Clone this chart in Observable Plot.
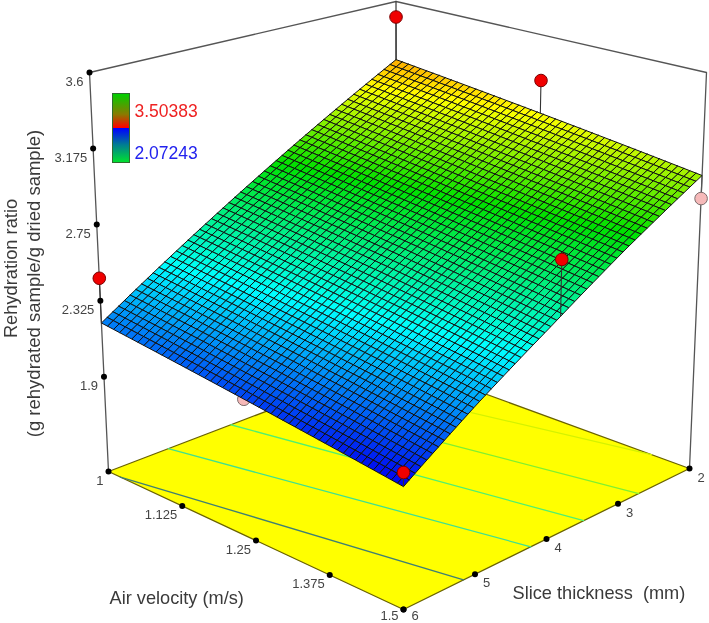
<!DOCTYPE html>
<html><head><meta charset="utf-8">
<script src="https://cdn.jsdelivr.net/npm/d3@7"></script>
<script src="https://cdn.jsdelivr.net/npm/@observablehq/plot@0.6"></script>
<style>
html,body{margin:0;padding:0;background:#fff;width:709px;height:623px;overflow:hidden}
#chart{position:relative;width:709px;height:623px}
#chart svg{display:block;filter:blur(0.45px)}
#bar{position:absolute;left:112px;top:93px;width:16px;height:68px;border:1px solid #2f6b2f;
background:linear-gradient(to bottom,#00d000 0%,#8a7a00 30%,#ff0000 49.5%,#0000ff 50.5%,#007f90 75%,#00e030 100%)}
</style></head><body><div id="chart"><div id="bar"></div></div>
<script>
const airTicks=[1,1.125,1.25,1.375,1.5];
const airLabels=["1","1.125","1.25","1.375","1.5"];
const sliceTicks=[6,5,4,3,2];
const sliceLabels=["6","5","4","3","2"];
const zTicks=[3.6,3.175,2.75,2.325,1.9];
const zLabels=["3.6","3.175","2.75","2.325","1.9"];
const zFloor=1.37, zCeil=3.6;
// response read at slice = 2,3,4,5,6 for three air velocities
const surfSlice=[2,3,4,5,6];
const surfAir=[1,1.25,1.5];
const surfAt1=[3.24,2.98,2.72,2.46,2.20];
const surfAt125=[3.13,2.87,2.62,2.36,2.10];
const surfAt15=[3.02,2.77,2.51,2.26,2.00];
// design points
const ptAir=[1,1.235,1,1.5,1.5,1.235,1.5];
const ptSlice=[2,2,6,3.87,2,6,6];
const ptZ=[3.50383,3.33,2.45,2.85,2.89,2.105,2.07243];
const ptBelow=[false,false,false,false,true,true,false];
// floor contours
const contA=[[1.02,1.5],[1,1.5],[1,1.5],[1,1.5],[1,1.435]];
const contS=[[6,5.16],[5.17,4.22],[4.3,3.48],[3.5,2.71],[2.76,2]];
const contC=["#3f7f74","#40e090","#50f070","#80f030","#d4f200"];
const colorDomain=[2.0,2.42,2.82,3.13,3.42];
const colorRange=["#0000f0","#00ffff","#00e000","#ffff00","#ff2000"];

// bilinear map of the unit square to the screen corners (left, front, right, back)
function squareToQuad(q){
  const [p0,p1,p2,p3]=q;
  return (u,v)=>[0,1].map(k=>(1-u)*(1-v)*p0[k]+u*(1-v)*p1[k]+u*v*p2[k]+(1-u)*v*p3[k]);
}
const floorH=squareToQuad([[108,471],[403,609],[689,468],[396,361]]);
const topH=squareToQuad([[89,72],[403,174],[706,72],[395.5,1]]);
function proj(air,slice,z){
  const u=(air-1)/0.5, v=(6-slice)/4, t=(z-zFloor)/(zCeil-zFloor);
  const f=floorH(u,v), g=topH(u,v);
  return [f[0]+(g[0]-f[0])*t, f[1]+(g[1]-f[1])*t];
}
const table=[surfAt1,surfAt125,surfAt15];
function surfZ(air,slice){
  const ai=Math.min(1,Math.floor((air-1)/0.25)), si=Math.min(3,Math.floor(slice-2));
  const p=(air-1)/0.25-ai, q=slice-2-si;
  return (1-p)*((1-q)*table[ai][si]+q*table[ai][si+1])+p*((1-q)*table[ai+1][si]+q*table[ai+1][si+1]);
}
const P=(air,slice,z,id,extra)=>{const [x,y]=proj(air,slice,z);return {x,y,id,...extra};};

// mesh
const N=50, cells=[];
for(let i=0;i<N;i++)for(let j=0;j<N;j++){
  const a0=1+i/N*0.5,a1=1+(i+1)/N*0.5,s0=2+j/N*4,s1=2+(j+1)/N*4;
  const zc=surfZ((a0+a1)/2,(s0+s1)/2), id=i*N+j;
  for(const [a,s] of [[a0,s0],[a1,s0],[a1,s1],[a0,s1],[a0,s0]])
    cells.push(P(a,s,surfZ(a,s),id,{zc}));
}
const floorPoly=[[1,6],[1.5,6],[1.5,2],[1,2],[1,6]].map(([a,s])=>P(a,s,zFloor,0));
const wall=[[1,6,zFloor],[1,6,zCeil],[1,2,zCeil],[1.5,2,zCeil],[1.5,2,zFloor]].map(([a,s,z])=>P(a,s,z,0));
const backPost=[P(1,2,zCeil,0),P(1,2,surfZ(1,2),0)];
const contLines=contA.map((ca,k)=>[P(ca[0],contS[k][0],zFloor,k),P(ca[1],contS[k][1],zFloor,k)]);
const pts=ptAir.map((a,i)=>({...P(a,ptSlice[i],ptZ[i],i),below:ptBelow[i]}));
const stems=ptAir.flatMap((a,i)=>[P(a,ptSlice[i],ptZ[i],i,{below:ptBelow[i]}),P(a,ptSlice[i],surfZ(a,ptSlice[i]),i,{below:ptBelow[i]})]);
const zT=zTicks.map((z,i)=>P(1,6,z,i,{label:zLabels[i]}));
const aT=airTicks.map((a,i)=>P(a,6,zFloor,i,{label:airLabels[i]}));
const sT=sliceTicks.map((s,i)=>P(1.5,s,zFloor,i,{label:sliceLabels[i]}));
const font="Liberation Sans, Arial, sans-serif";
const tick={x:"x",y:"y",r:3,fill:"#000"};
const lab=(d,o)=>Plot.text(d,{x:"x",y:"y",text:"label",fill:"#444",fontSize:13,fontFamily:font,...o});
const title=(s,o)=>Plot.text([s],{text:d=>d,frameAnchor:"top-left",fontFamily:font,...o});

const chart=Plot.plot({
  width:709,height:623,margin:0,
  style:{background:"transparent"},
  x:{domain:[0,709],range:[0,709],axis:null},
  y:{domain:[0,623],range:[0,623],axis:null},
  color:{type:"linear",domain:colorDomain,range:colorRange,interpolate:"rgb",clamp:true},
  marks:[
    Plot.line(wall,{x:"x",y:"y",stroke:"#555",strokeWidth:1.3}),
    Plot.line(backPost,{x:"x",y:"y",stroke:"#444",strokeWidth:1.3}),
    Plot.line(stems.filter(d=>d.below),{x:"x",y:"y",z:"id",stroke:"#555",strokeWidth:1.2}),
    Plot.dot(pts.filter(d=>d.below),{x:"x",y:"y",r:6.3,fill:"#f6b9b9",stroke:"#7a6a6a",strokeWidth:1}),
    Plot.line(floorPoly,{x:"x",y:"y",fill:"#ffff00",stroke:"#6a6200",strokeWidth:1.3}),
    ...contLines.map((l,k)=>Plot.line(l,{x:"x",y:"y",stroke:contC[k],strokeWidth:1.3})),
    Plot.line(cells,{x:"x",y:"y",z:"id",fill:"zc",stroke:"#111",strokeWidth:1,curve:"linear"}),
    Plot.line(stems.filter(d=>!d.below),{x:"x",y:"y",z:"id",stroke:"#333",strokeWidth:1.1}),
    Plot.dot(pts.filter(d=>!d.below),{x:"x",y:"y",r:6.3,fill:"#f00000",stroke:"#7a0000",strokeWidth:1}),
    Plot.dot(zT,tick),Plot.dot(aT,tick),Plot.dot(sT,tick),
    lab(zT,{textAnchor:"end",dx:-6,dy:9}),
    lab(aT.filter(d=>d.label!=="1.5"),{textAnchor:"end",dx:-5,dy:9}),
    lab(aT.filter(d=>d.label==="1.5"),{textAnchor:"end",dx:-5,dy:6}),
    lab(sT.filter(d=>d.label!=="6"),{textAnchor:"start",dx:8,dy:9}),
    lab(sT.filter(d=>d.label==="6"),{textAnchor:"start",dx:8,dy:6}),
    title("3.50383",{dx:134,dy:104,fontSize:17.5,fill:"#ee2222",textAnchor:"start"}),
    title("2.07243",{dx:134,dy:146,fontSize:17.5,fill:"#2222ee",textAnchor:"start"}),
    title("Air velocity (m/s)",{dx:109,dy:591,fontSize:18.2,fill:"#3a3a3a",textAnchor:"start"}),
    title("Slice thickness  (mm)",{dx:512,dy:586,fontSize:18.2,fill:"#3a3a3a",textAnchor:"start"}),
    title("Rehydration ratio",{dx:3.5,dy:268,fontSize:18.3,fill:"#3a3a3a",rotate:-90,textAnchor:"middle"}),
    title("(g rehydrated sample/g dried sample)",{dx:26.5,dy:283,fontSize:18.5,fill:"#3a3a3a",rotate:-90,textAnchor:"middle"})
  ]
});
document.getElementById("chart").prepend(chart);
</script></body></html>
